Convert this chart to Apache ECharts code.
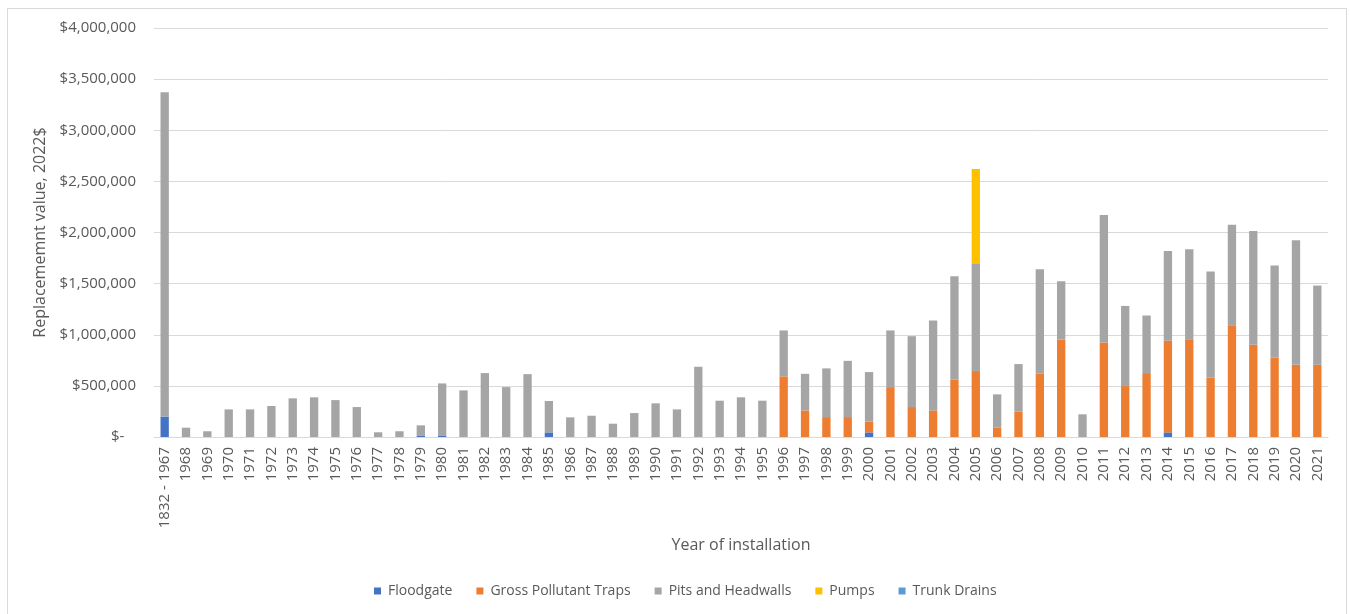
<!DOCTYPE html>
<html>
<head>
<meta charset="utf-8">
<title>Replacement value by year of installation</title>
<script src="https://cdn.jsdelivr.net/npm/echarts@6/dist/echarts.min.js"></script>
<style>
  html, body { margin: 0; padding: 0; background: #ffffff; }
  #frame { position: absolute; left: 7px; top: 8px; width: 1340px; height: 620px; border: 1px solid #d9d9d9; box-sizing: border-box; }
  #chart { position: absolute; left: 0; top: 0; width: 1350px; height: 614px; }
</style>
</head>
<body>
<div id="frame"></div>
<div id="chart"></div>
<script>
// Year of installation (first bucket groups all early assets)
const years = [
  '1832 - 1967', '1968', '1969', '1970', '1971', '1972', '1973', '1974', '1975', '1976',
  '1977', '1978', '1979', '1980', '1981', '1982', '1983', '1984', '1985', '1986',
  '1987', '1988', '1989', '1990', '1991', '1992', '1993', '1994', '1995', '1996',
  '1997', '1998', '1999', '2000', '2001', '2002', '2003', '2004', '2005', '2006',
  '2007', '2008', '2009', '2010', '2011', '2012', '2013', '2014', '2015', '2016',
  '2017', '2018', '2019', '2020', '2021'
];

// Replacement value (2022 $) per asset class
const floodgate = [
  200000, 0, 0, 0, 0, 0, 0, 0, 0, 0,
  0, 0, 15000, 15000, 0, 0, 0, 0, 45000, 0,
  0, 0, 0, 0, 0, 0, 0, 0, 0, 0,
  0, 0, 0, 45000, 0, 0, 0, 0, 0, 0,
  0, 0, 0, 0, 0, 0, 0, 45000, 0, 0,
  0, 0, 0, 0, 0
];

const grossPollutantTraps = [
  0, 0, 0, 0, 0, 0, 0, 0, 0, 0,
  0, 0, 0, 0, 0, 0, 0, 0, 0, 0,
  0, 0, 0, 0, 0, 0, 0, 0, 0, 593000,
  260000, 195000, 195000, 105000, 488000, 293000, 260000, 560000, 645000, 91000,
  247000, 618000, 954000, 0, 925000, 498000, 625000, 896000, 957000, 579000,
  1094000, 901000, 774000, 706000, 706000
];

const pitsAndHeadwalls = [
  3172000, 91000, 56000, 270000, 270000, 303000, 378000, 388000, 361000, 293000,
  46000, 56000, 99000, 509000, 456000, 625000, 488000, 615000, 307000, 192000,
  208000, 130000, 234000, 329000, 270000, 687000, 355000, 388000, 355000, 449000,
  358000, 476000, 550000, 485000, 554000, 693000, 880000, 1012000, 1055000, 326000,
  466000, 1023000, 569000, 222000, 1246000, 784000, 563000, 879000, 879000, 1039000,
  983000, 1114000, 903000, 1218000, 775000
];

const pumps = [
  0, 0, 0, 0, 0, 0, 0, 0, 0, 0,
  0, 0, 0, 0, 0, 0, 0, 0, 0, 0,
  0, 0, 0, 0, 0, 0, 0, 0, 0, 0,
  0, 0, 0, 0, 0, 0, 0, 0, 920000, 0,
  0, 0, 0, 0, 0, 0, 0, 0, 0, 0,
  0, 0, 0, 0, 0
];

const trunkDrains = years.map(() => 0);

const yTicks = [0, 500000, 1000000, 1500000, 2000000, 2500000, 3000000, 3500000, 4000000];

const seriesDefs = [
  { name: 'Floodgate', data: floodgate, color: '#4472C4' },
  { name: 'Gross Pollutant Traps', data: grossPollutantTraps, color: '#ED7D31' },
  { name: 'Pits and Headwalls', data: pitsAndHeadwalls, color: '#A5A5A5' },
  { name: 'Pumps', data: pumps, color: '#FFC000' },
  { name: 'Trunk Drains', data: trunkDrains, color: '#5B9BD5' }
];

const FONT = '"Open Sans", "Liberation Sans", sans-serif';
const TEXT = '#595959';

function money(v) {
  if (v === 0) return '$-   ';
  return '$' + v.toLocaleString('en-US');
}

const chart = echarts.init(document.getElementById('chart'), null, { renderer: 'canvas' });

chart.setOption({
  animation: false,
  backgroundColor: 'transparent',
  textStyle: { fontFamily: FONT, color: TEXT },
  grid: { left: 154, right: 22, top: 28, bottom: 177, containLabel: false },
  legend: {
    bottom: 11,
    left: 369,
    itemWidth: 7,
    itemHeight: 7,
    itemGap: 24,
    icon: 'rect',
    textStyle: { fontFamily: FONT, fontSize: 14, color: TEXT, padding: [0, 0, 0, 2] },
    data: seriesDefs.map(s => s.name)
  },
  xAxis: {
    type: 'category',
    data: years,
    name: 'Year of installation',
    nameLocation: 'middle',
    nameGap: 100,
    nameTextStyle: { fontFamily: FONT, fontSize: 16, color: TEXT },
    axisLine: { lineStyle: { color: '#d9d9d9', width: 1 } },
    axisTick: { show: false },
    axisLabel: { rotate: 90, fontFamily: FONT, fontSize: 15, color: TEXT, margin: 10, interval: 0 }
  },
  yAxis: {
    type: 'value',
    min: yTicks[0],
    max: yTicks[yTicks.length - 1],
    interval: yTicks[1] - yTicks[0],
    name: 'Replacememnt value, 2022$',
    nameLocation: 'middle',
    nameGap: 105,
    nameTextStyle: { fontFamily: FONT, fontSize: 16, color: TEXT },
    axisLine: { show: false },
    axisTick: { show: false },
    splitLine: { lineStyle: { color: '#d9d9d9', width: 1 } },
    axisLabel: { fontFamily: FONT, fontSize: 15, color: TEXT, margin: 18, formatter: money }
  },
  series: seriesDefs.map(s => ({
    name: s.name,
    type: 'bar',
    stack: 'total',
    data: s.data,
    barWidth: '39%',
    itemStyle: { color: s.color },
    emphasis: { disabled: true }
  }))
});
</script>
</body>
</html>
